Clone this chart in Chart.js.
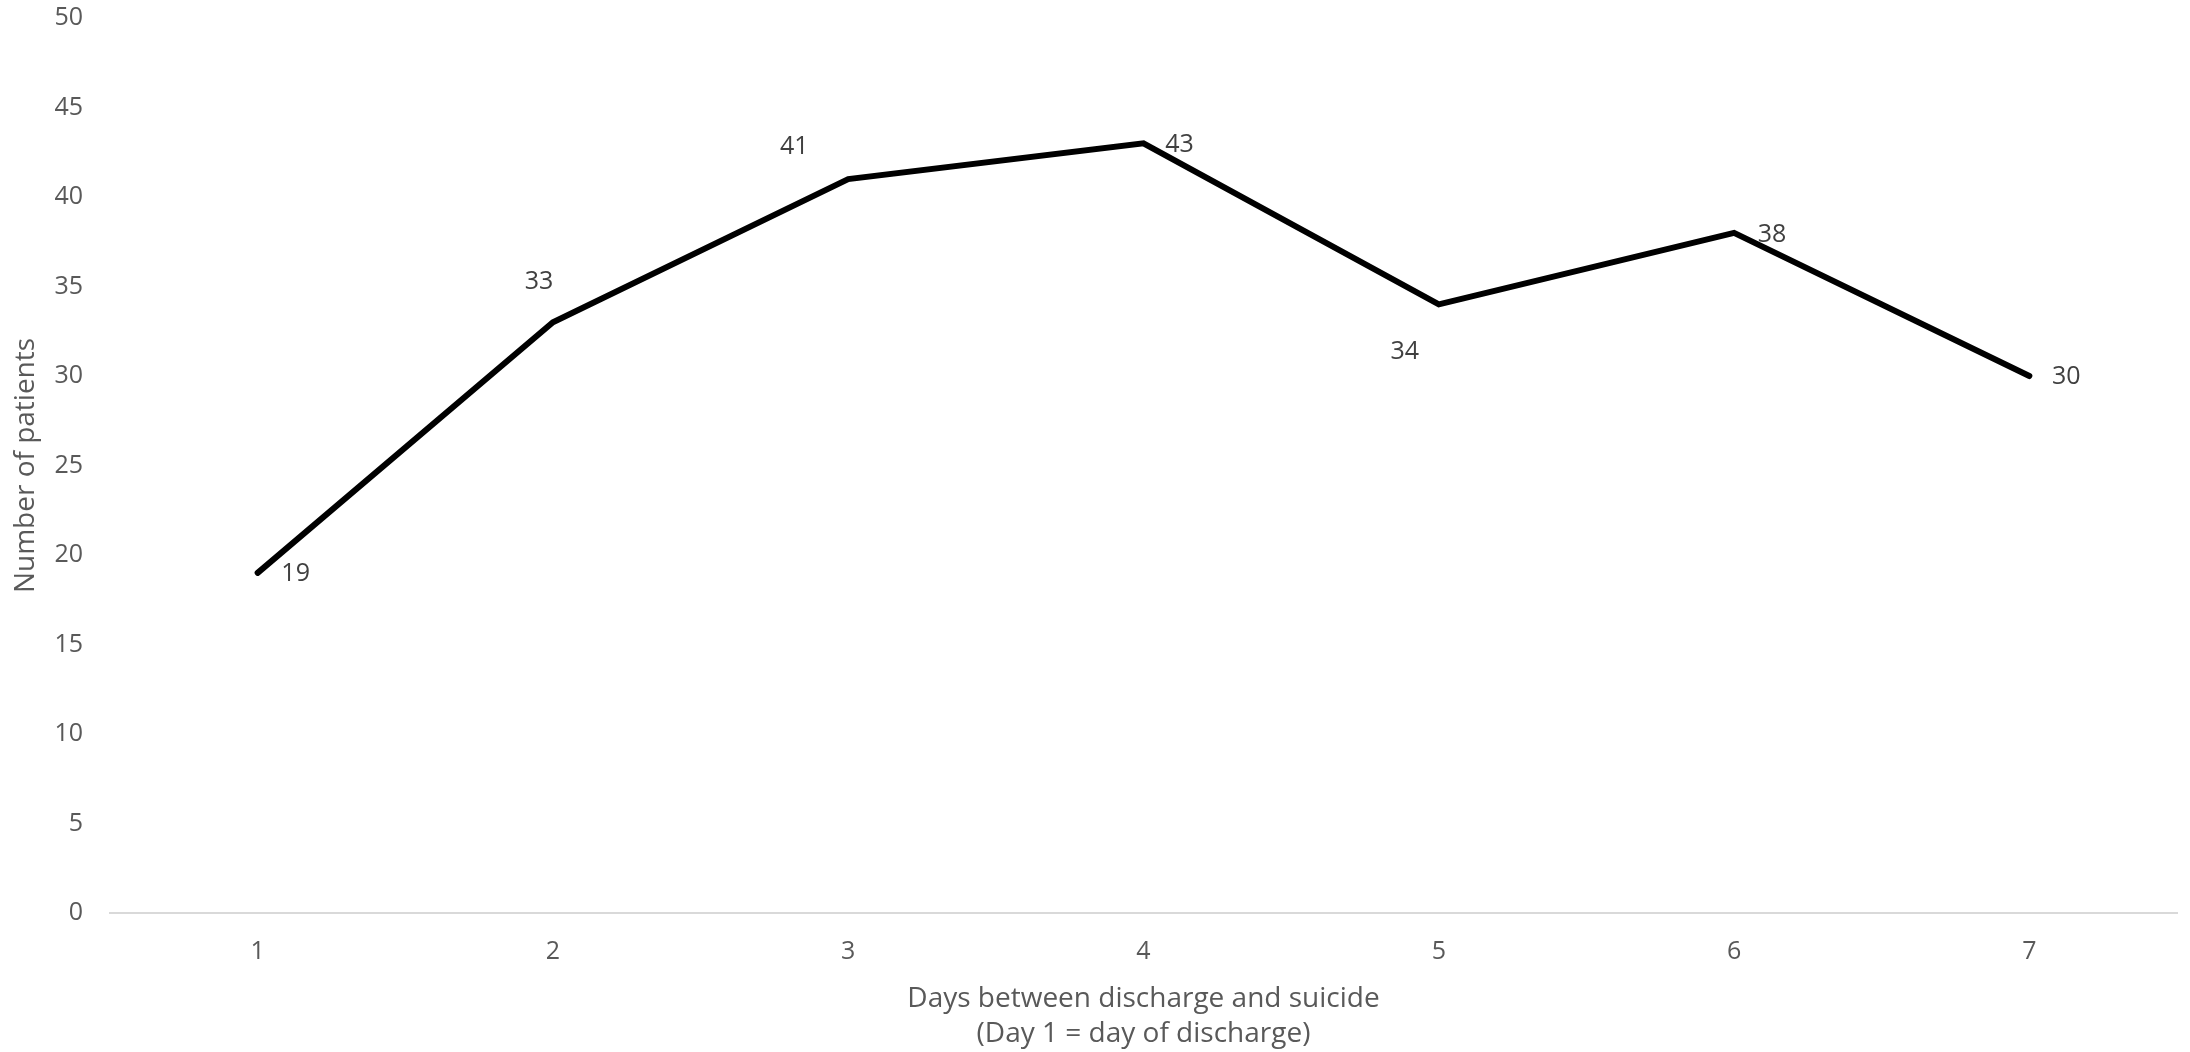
<!DOCTYPE html>
<html>
<head>
<meta charset="utf-8">
<script src="https://cdn.jsdelivr.net/npm/chart.js@4/dist/chart.umd.min.js"></script>
<style>
  html, body { margin: 0; padding: 0; background: #ffffff; }
  #wrap { width: 2190px; height: 1052px; position: relative; }
</style>
</head>
<body>
<div id="wrap"><canvas id="c" width="2190" height="1052"></canvas></div>
<script>
// ---- data ----
const categories = ['1', '2', '3', '4', '5', '6', '7'];
const patients = [19, 33, 41, 43, 34, 38, 30];
const yTitle = 'Number of patients';
const xTitle = ['Days between discharge and suicide', '(Day 1 = day of discharge)'];

// ---- label placement (style, pixel offsets from each point) ----
const labelOffsets = [[38, 1], [-14, -40], [-54, -32], [36, 2], [-34, 47], [38, 2], [37, 1]];

const FONT = '"Open Sans", sans-serif';

const dataLabelPlugin = {
  id: 'dataLabels',
  afterDatasetsDraw(chart) {
    const ctx = chart.ctx;
    const meta = chart.getDatasetMeta(0);
    ctx.save();
    ctx.font = '25px ' + FONT;
    ctx.fillStyle = '#404040';
    ctx.textAlign = 'center';
    ctx.textBaseline = 'middle';
    meta.data.forEach((pt, i) => {
      const off = labelOffsets[i] || [0, 0];
      ctx.fillText(String(chart.data.datasets[0].data[i]), pt.x + off[0], pt.y + off[1]);
    });
    ctx.restore();
  }
};

new Chart(document.getElementById('c'), {
  type: 'line',
  data: {
    labels: categories,
    datasets: [{
      data: patients,
      borderColor: '#000000',
      borderWidth: 6,
      borderCapStyle: 'round',
      borderJoinStyle: 'miter',
      tension: 0,
      pointRadius: 0,
      pointHoverRadius: 0,
      fill: false
    }]
  },
  options: {
    responsive: false,
    animation: false,
    devicePixelRatio: 1,
    layout: { padding: { left: 0, right: 13, top: 18, bottom: 0 } },
    plugins: {
      legend: { display: false },
      tooltip: { enabled: false },
      title: { display: false }
    },
    scales: {
      x: {
        type: 'category',
        offset: true,
        grid: { display: false, drawTicks: false },
        border: { display: true, color: '#d9d9d9', width: 2 },
        ticks: { color: '#595959', font: { family: FONT, size: 25 }, padding: 24, maxRotation: 0 },
        title: {
          display: true,
          text: xTitle,
          color: '#595959',
          font: { family: FONT, size: 28, lineHeight: 1.25 },
          padding: { top: 0, bottom: 0 }
        },
        afterFit(scale) { scale.height = 139; }
      },
      y: {
        min: 0,
        max: 50,
        grid: { display: false, drawTicks: false },
        border: { display: false },
        ticks: { stepSize: 5, color: '#595959', font: { family: FONT, size: 25 }, padding: 27 },
        title: {
          display: true,
          text: yTitle,
          color: '#595959',
          font: { family: FONT, size: 28 },
          padding: { top: 9, bottom: 0 }
        },
        afterFit(scale) { scale.width = 110; scale.paddingTop = 0; scale.paddingBottom = 0; }
      }
    }
  },
  plugins: [dataLabelPlugin]
});
</script>
</body>
</html>
